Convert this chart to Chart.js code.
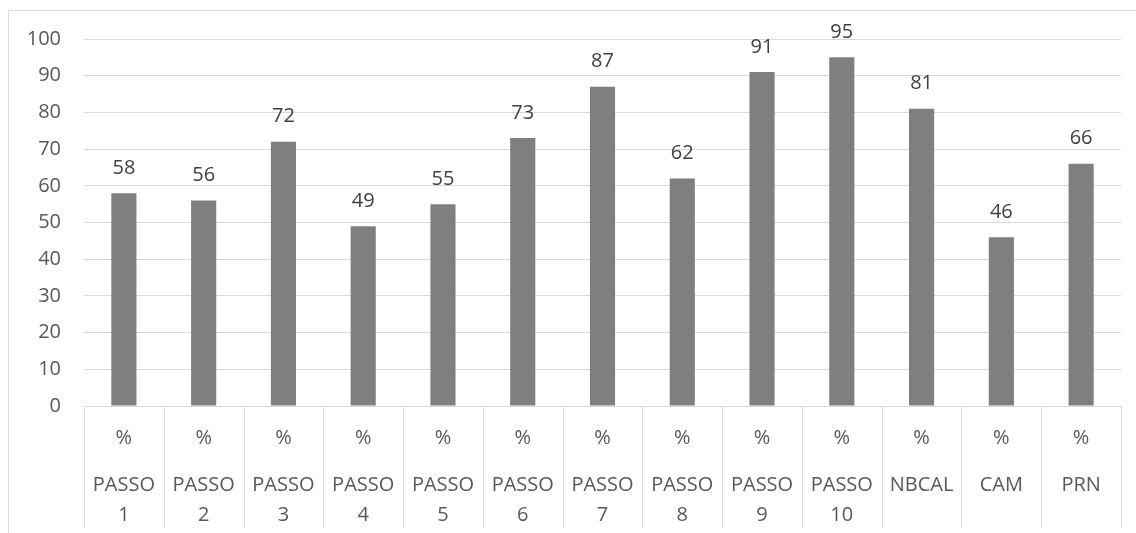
<!DOCTYPE html>
<html>
<head>
<meta charset="utf-8">
<script src="https://cdn.jsdelivr.net/npm/chart.js@4/dist/chart.umd.min.js"></script>
<style>
  html, body { margin: 0; padding: 0; background: #ffffff; }
  #wrap { width: 1136px; height: 533px; }
</style>
</head>
<body>
<div id="wrap"><canvas id="chart" width="1136" height="533"></canvas></div>
<script>
// Category groups (second row of the axis) and unit row
const stepLabels = [
  ['PASSO', '1'], ['PASSO', '2'], ['PASSO', '3'], ['PASSO', '4'], ['PASSO', '5'],
  ['PASSO', '6'], ['PASSO', '7'], ['PASSO', '8'], ['PASSO', '9'], ['PASSO', '10'],
  ['NBCAL'], ['CAM'], ['PRN']
];
const unitLabels = ['%', '%', '%', '%', '%', '%', '%', '%', '%', '%', '%', '%', '%'];

// Percentage per step
const scores = [58, 56, 72, 49, 55, 73, 87, 62, 91, 95, 81, 46, 66];

// Value axis range
const yMin = 0;
const yMax = 100;
const yStep = 10;

const FONT = "'Open Sans', 'Liberation Sans', sans-serif";
const GRID = '#d9d9d9';
const AXIS_TEXT = '#595959';
const LABEL_TEXT = '#404040';

// Outer frame of the chart
const framePlugin = {
  id: 'frame',
  beforeDraw(chart) {
    const ctx = chart.ctx;
    ctx.save();
    ctx.strokeStyle = GRID;
    ctx.lineWidth = 1;
    ctx.strokeRect(8.5, 10.5, chart.width, chart.height);
    ctx.restore();
  }
};

// Vertical dividers between the category cells below the axis
const dividerPlugin = {
  id: 'dividers',
  afterDraw(chart) {
    const xs = chart.scales.x;
    const xs2 = chart.scales.x2;
    const n = xs.ticks.length;
    const ctx = chart.ctx;
    ctx.save();
    ctx.strokeStyle = GRID;
    ctx.lineWidth = 1;
    ctx.beginPath();
    for (let i = 0; i <= n; i++) {
      const x = Math.round(xs.getPixelForDecimal(i / n)) + 0.5;
      ctx.moveTo(x, xs.top);
      ctx.lineTo(x, xs2.bottom - 5);
    }
    ctx.stroke();
    ctx.restore();
  }
};

// Value labels above each bar
const valueLabelPlugin = {
  id: 'valueLabels',
  afterDatasetsDraw(chart) {
    const ctx = chart.ctx;
    const meta = chart.getDatasetMeta(0);
    const data = chart.data.datasets[0].data;
    ctx.save();
    ctx.font = '20px ' + FONT;
    ctx.fillStyle = LABEL_TEXT;
    ctx.textAlign = 'center';
    ctx.textBaseline = 'middle';
    meta.data.forEach((bar, i) => {
      ctx.fillText(String(data[i]), bar.x, bar.y - 25);
    });
    ctx.restore();
  }
};

new Chart(document.getElementById('chart'), {
  type: 'bar',
  data: {
    labels: unitLabels,
    datasets: [{
      data: scores,
      backgroundColor: '#7f7f7f',
      borderWidth: 0,
      barPercentage: 0.315,
      categoryPercentage: 1.0,
      xAxisID: 'x',
      yAxisID: 'y'
    }]
  },
  options: {
    responsive: false,
    animation: false,
    devicePixelRatio: 1,
    layout: { padding: { top: 39, right: 15, bottom: 0, left: 0 } },
    plugins: {
      legend: { display: false },
      tooltip: { enabled: false },
      title: { display: false }
    },
    scales: {
      y: {
        min: yMin,
        max: yMax,
        ticks: {
          stepSize: yStep,
          padding: 23,
          color: AXIS_TEXT,
          font: { family: FONT, size: 20 }
        },
        grid: { color: GRID, lineWidth: 1, drawTicks: false },
        border: { display: false },
        afterFit(scale) { scale.width = 84; }
      },
      x: {
        type: 'category',
        weight: 0,
        offset: true,
        grid: { display: false, drawTicks: false },
        border: { display: true, color: GRID, width: 1 },
        ticks: {
          padding: 20,
          maxRotation: 0,
          autoSkip: false,
          color: AXIS_TEXT,
          font: { family: FONT, size: 20, lineHeight: 1.2 }
        },
        afterFit(scale) { scale.height = 44; }
      },
      x2: {
        type: 'category',
        position: 'bottom',
        weight: 1,
        offset: true,
        labels: stepLabels,
        grid: { display: false, drawTicks: false },
        border: { display: false },
        ticks: {
          padding: 20,
          maxRotation: 0,
          autoSkip: false,
          color: AXIS_TEXT,
          font: { family: FONT, size: 20, lineHeight: 1.5 }
        },
        afterFit(scale) { scale.height = 83; }
      }
    }
  },
  plugins: [framePlugin, dividerPlugin, valueLabelPlugin]
});
</script>
</body>
</html>
